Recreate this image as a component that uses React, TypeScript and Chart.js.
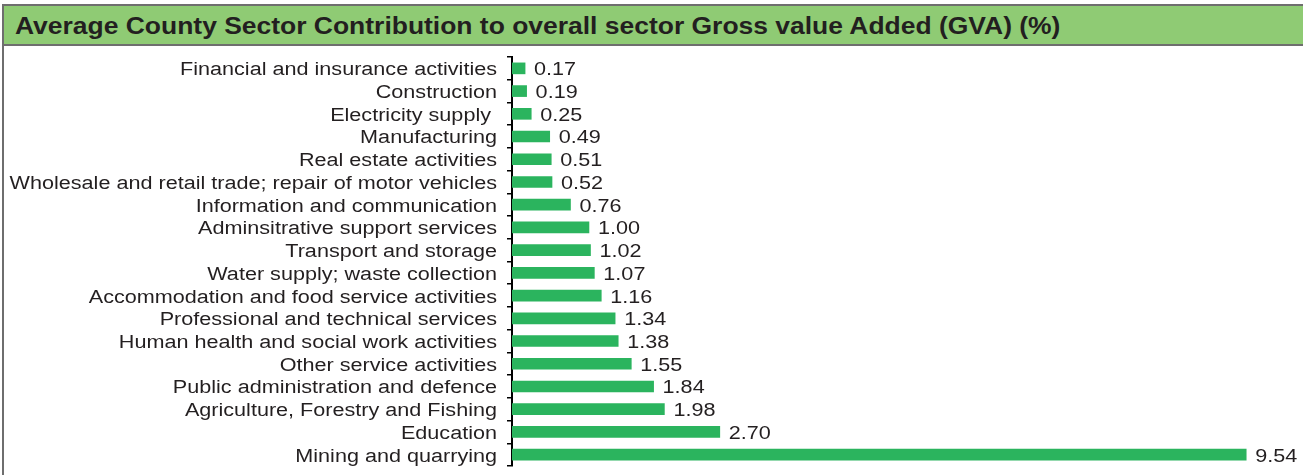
import React, { useEffect, useRef } from "react";
import { Chart, registerables } from "chart.js";

Chart.register(...registerables);

const TITLE = "Average County Sector Contribution to overall sector Gross value Added (GVA) (%)";

const categories = [
  "Financial and insurance activities",
  "Construction",
  "Electricity supply ",
  "Manufacturing",
  "Real estate activities",
  "Wholesale and retail trade; repair of motor vehicles",
  "Information and communication",
  "Adminsitrative support services",
  "Transport and storage",
  "Water supply; waste collection",
  "Accommodation and food service activities",
  "Professional and technical services",
  "Human health and social work activities",
  "Other service activities",
  "Public administration and defence",
  "Agriculture, Forestry and Fishing",
  "Education",
  "Mining and quarrying",
];

const values = [0.17, 0.19, 0.25, 0.49, 0.51, 0.52, 0.76, 1.0, 1.02, 1.07, 1.16, 1.34, 1.38, 1.55, 1.84, 1.98, 2.7, 9.54];

const BAR_COLOR = "#2bb45e";
const TEXT_COLOR = "#231f20";
const FONT = "'Liberation Sans', Arial, sans-serif";
const STRETCH = 1.2;

const textPlugin = {
  id: "textPlugin",
  afterDatasetsDraw(chart: any) {
    const ctx = chart.ctx;
    const meta = chart.getDatasetMeta(0);
    const yScale = chart.scales.y;
    ctx.save();
    ctx.font = `18px ${FONT}`;
    ctx.fillStyle = TEXT_COLOR;
    ctx.textBaseline = "middle";
    // category labels
    categories.forEach((label, i) => {
      const y = yScale.getPixelForTick(i);
      ctx.save();
      ctx.translate(yScale.right - 15, y + 2);
      ctx.scale(STRETCH, 1);
      ctx.textAlign = "right";
      ctx.fillText(label, 0, 0);
      ctx.restore();
    });
    // value labels
    meta.data.forEach((bar: any, i: number) => {
      ctx.save();
      ctx.translate(bar.x + 9, bar.y + 2);
      ctx.scale(STRETCH, 1);
      ctx.textAlign = "left";
      ctx.fillText(values[i].toFixed(2), 0, 0);
      ctx.restore();
    });
    ctx.restore();
  },
};

export default function App() {
  const ref = useRef<HTMLCanvasElement | null>(null);
  useEffect(() => {
    document.body.style.margin = "0";
    if (!ref.current) return;
    const chart = new Chart(ref.current, {
      type: "bar",
      data: {
        labels: categories,
        datasets: [
          {
            data: values,
            backgroundColor: BAR_COLOR,
            barThickness: 11,
            borderWidth: 0,
          },
        ],
      },
      options: {
        indexAxis: "y",
        animation: false,
        responsive: false,
        maintainAspectRatio: false,
        layout: { padding: { left: 0, right: 6, top: 10, bottom: 9 } },
        plugins: { legend: { display: false }, tooltip: { enabled: false } },
        scales: {
          x: { display: false, min: 0, max: 10.2 },
          y: {
            afterFit(scale: any) {
              scale.width = 512;
            },
            grid: {
              offset: true,
              drawOnChartArea: false,
              drawTicks: true,
              tickLength: 5,
              color: "#000",
              lineWidth: 1.5,
            },
            border: { display: true, color: "#000", width: 2 },
            ticks: {
              display: false,
              autoSkip: false,
            },
          },
        },
      },
      plugins: [textPlugin],
    });
    return () => chart.destroy();
  }, []);

  return (
    <div style={{ position: "relative", width: 1303, height: 475, background: "#fff", overflow: "hidden" }}>
      <div style={{ position: "absolute", left: 2, top: 4, width: 2, height: 471, background: "#6e6e6e" }} />
      <div
        style={{
          position: "absolute",
          left: 2,
          top: 4,
          width: 1301,
          height: 38,
          background: "#8fcb74",
          borderTop: "2px solid #6e6e6e",
          borderBottom: "2px solid #6e6e6e",
          borderLeft: "2px solid #6e6e6e",
          boxSizing: "content-box",
        }}
      >
        <div
          style={{
            position: "absolute",
            left: 11,
            top: 0,
            fontFamily: FONT,
            fontWeight: "bold",
            fontSize: 23,
            color: TEXT_COLOR,
            lineHeight: "40px",
            whiteSpace: "nowrap",
            transform: "scaleX(1.15)",
            transformOrigin: "left center",
          }}
        >
          {TITLE}
        </div>
      </div>
      <canvas ref={ref} width={1303} height={428} style={{ position: "absolute", left: 0, top: 47, display: "block" }} />
    </div>
  );
}
